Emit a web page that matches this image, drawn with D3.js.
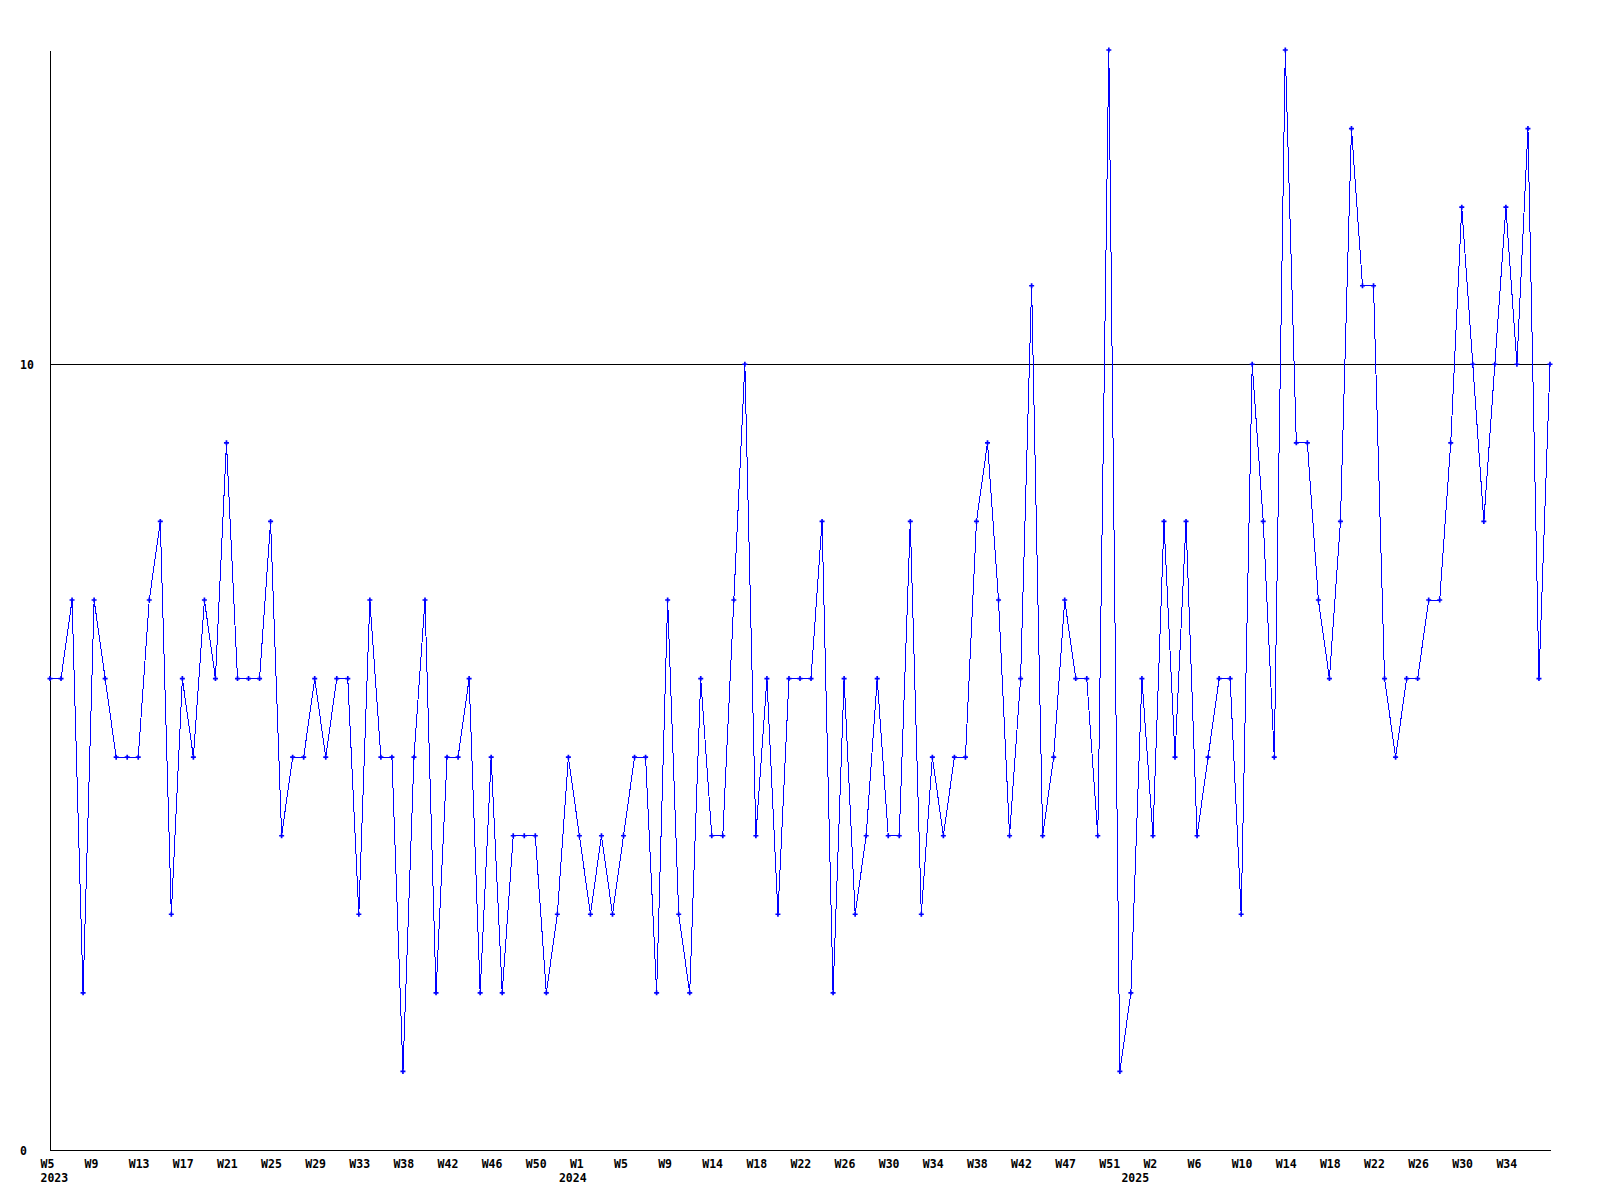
<!DOCTYPE html>
<html>
<head>
<meta charset="utf-8">
<script src="https://cdn.jsdelivr.net/npm/d3@7"></script>
<style>
body { margin: 0; background: #fff; }
.axis text { font-family: "DejaVu Sans Mono", monospace; font-weight: bold; font-size: 11.5px; fill: #000; }
.axis path, .axis line { stroke: #000; }
</style>
</head>
<body>
<script>
// weekly counts, one per point
var values = [6,6,7,2,7,6,5,5,5,7,8,3,6,5,7,6,9,6,6,6,8,4,5,5,6,5,6,6,3,7,
    5,5,1,5,7,2,5,5,6,2,5,2,4,4,4,2,3,5,4,3,4,3,4,5,5,2,7,3,2,6,
    4,4,7,10,4,6,3,6,6,6,8,2,6,3,4,6,4,4,8,3,5,4,5,5,8,9,7,4,6,11,
    4,5,7,6,6,4,14,1,2,6,4,8,5,8,4,5,6,6,3,10,8,5,14,9,9,7,6,8,13,11,
    11,6,5,6,6,7,7,9,12,10,8,10,12,10,13,6,10];

// one week label every 4 points
var weekLabels = ['W5','W9','W13','W17','W21','W25','W29','W33','W38','W42','W46','W50',
    'W1','W5','W9','W14','W18','W22','W26','W30','W34','W38','W42','W47',
    'W51','W2','W6','W10','W14','W18','W22','W26','W30','W34'];
var weekStep = 4;

var yearLabels = ['2023','2024','2025'];
var yearIndex = [0, 47, 98];

var yTicks = [0, 10];

var margin = { top: 50, right: 50, bottom: 50, left: 50 };
var w = 1500;
var h = 1100;

var xScale = d3.scaleLinear()
    .domain([0, values.length - 1])
    .range([margin.left, margin.left + w]);

var yScale = d3.scaleLinear()
    .domain([0, 14])
    .range([margin.top + h, margin.top]);

var svg = d3.select('body').append('svg')
    .attr('width', 1600)
    .attr('height', 1200);

// y axis + line at 10
var yAxis = d3.axisLeft(yScale)
    .tickValues(yTicks)
    .tickFormat(d3.format('d'))
    .tickSizeInner(-w)
    .tickSizeOuter(0);

var gy = svg.append('g')
    .attr('class', 'axis')
    .attr('transform', 'translate(' + margin.left + ',0)')
    .call(yAxis);
gy.selectAll('.tick line').attr('shape-rendering', 'crispEdges');
gy.select('.domain').attr('shape-rendering', 'crispEdges');
gy.selectAll('text')
    .attr('text-anchor', 'start')
    .attr('x', -30)
    .attr('dy', '0.38em');

// x axis, week labels
var xAxis = d3.axisBottom(xScale)
    .tickValues(weekLabels.map(function (d, i) { return i * weekStep; }))
    .tickFormat(function (d) { return weekLabels[d / weekStep]; })
    .tickSize(0)
    .tickPadding(10);

var gx = svg.append('g')
    .attr('class', 'axis')
    .attr('transform', 'translate(0,' + (margin.top + h) + ')')
    .call(xAxis);
gx.select('.domain').attr('shape-rendering', 'crispEdges');
gx.selectAll('text')
    .attr('text-anchor', 'start')
    .attr('x', -10);

// year labels
var yearAxis = d3.axisBottom(xScale)
    .tickValues(yearIndex)
    .tickFormat(function (d, i) { return yearLabels[i]; })
    .tickSize(0)
    .tickPadding(24);

var gyear = svg.append('g')
    .attr('class', 'axis')
    .attr('transform', 'translate(0,' + (margin.top + h) + ')')
    .call(yearAxis);
gyear.select('.domain').remove();
gyear.selectAll('text')
    .attr('text-anchor', 'start')
    .attr('x', -10);

// series
var line = d3.line()
    .x(function (d, i) { return xScale(i); })
    .y(function (d) { return yScale(d); });

svg.append('path')
    .datum(values)
    .attr('fill', 'none')
    .attr('stroke', '#0000ff')
    .attr('stroke-width', 1)
    .attr('shape-rendering', 'crispEdges')
    .attr('d', line);

var marker = d3.symbol().type(d3.symbolCross).size(14);

svg.selectAll('.pt')
    .data(values)
    .enter()
    .append('path')
    .attr('class', 'pt')
    .attr('d', marker)
    .attr('fill', '#0000ff')
    .attr('transform', function (d, i) {
        return 'translate(' + xScale(i) + ',' + yScale(d) + ')';
    });
</script>
</body>
</html>
